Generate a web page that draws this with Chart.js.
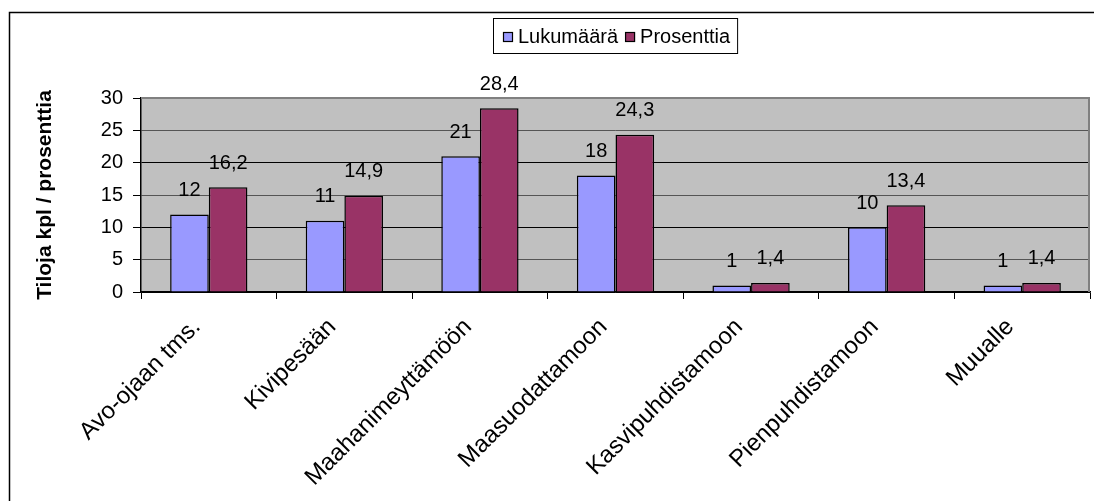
<!DOCTYPE html>
<html>
<head>
<meta charset="utf-8">
<script src="https://cdn.jsdelivr.net/npm/chart.js@4/dist/chart.umd.min.js"></script>
<style>
  html, body { margin: 0; padding: 0; background: #fff; }
  #wrap { width: 1094px; height: 501px; }
</style>
</head>
<body>
<div id="wrap"><canvas id="c" width="1094" height="501"></canvas></div>
<script>
// Categories and series
const categories = ['Avo-ojaan tms.', 'Kivipesään', 'Maahanimeyttämöön', 'Maasuodattamoon', 'Kasvipuhdistamoon', 'Pienpuhdistamoon', 'Muualle'];
const lukumaara = [12, 11, 21, 18, 1, 10, 1];
const prosenttia = [16.2, 14.9, 28.4, 24.3, 1.4, 13.4, 1.4];
const yTicks = [0, 5, 10, 15, 20, 25, 30];
const seriesNames = ['Lukumäärä', 'Prosenttia'];

const FONT = "'Liberation Sans', Arial, sans-serif";
Chart.defaults.font.family = FONT;
Chart.defaults.font.size = 20;
Chart.defaults.color = '#000';

// Finnish decimal formatting
function fmt(v, decimals) {
  return decimals ? v.toFixed(decimals).replace('.', ',') : String(v);
}

// Outer frame, plot background and plot edge
const frame = {
  id: 'frame',
  beforeDraw(chart) {
    const { ctx, chartArea: a } = chart;
    ctx.save();
    ctx.fillStyle = '#fff';
    ctx.fillRect(0, 0, chart.width, chart.height);
    ctx.strokeStyle = '#000';
    ctx.lineWidth = 1.5;
    ctx.beginPath();
    ctx.moveTo(chart.width + 5, 12.5);
    ctx.lineTo(9.5, 12.5);
    ctx.lineTo(9.5, chart.height + 5);
    ctx.stroke();
    ctx.fillStyle = '#C0C0C0';
    ctx.fillRect(a.left, a.top, a.right - a.left, a.bottom - a.top);
    ctx.restore();
  },
  beforeDatasetsDraw(chart) {
    const { ctx, chartArea: a } = chart;
    ctx.save();
    ctx.strokeStyle = '#808080';
    ctx.lineWidth = 2;
    ctx.beginPath();
    ctx.moveTo(a.left, a.top);
    ctx.lineTo(a.right - 1, a.top);
    ctx.lineTo(a.right - 1, a.bottom);
    ctx.stroke();
    ctx.restore();
  }
};

// Value labels above each bar
const valueLabels = {
  id: 'valueLabels',
  afterDatasetsDraw(chart) {
    const { ctx } = chart;
    ctx.save();
    ctx.font = '20px ' + FONT;
    ctx.fillStyle = '#000';
    ctx.textAlign = 'center';
    ctx.textBaseline = 'middle';
    chart.data.datasets.forEach((ds, i) => {
      const meta = chart.getDatasetMeta(i);
      meta.data.forEach((bar, j) => {
        ctx.fillText(fmt(ds.data[j], ds.decimals), bar.x, bar.y - 24);
      });
    });
    ctx.restore();
  }
};

// Boxed legend at the top
const boxLegend = {
  id: 'boxLegend',
  afterDraw(chart) {
    const { ctx } = chart;
    ctx.save();
    ctx.font = '20px ' + FONT;
    ctx.textBaseline = 'middle';
    ctx.textAlign = 'left';
    const boxL = 493, boxT = 18, boxH = 35, cy = 37;
    let x = boxL + 10;
    chart.data.datasets.forEach((ds, i) => {
      ctx.fillStyle = ds.backgroundColor;
      ctx.fillRect(x, cy - 5, 10, 10);
      ctx.strokeStyle = '#000';
      ctx.lineWidth = 1.2;
      ctx.strokeRect(x + 0.5, cy - 4.5, 9, 9);
      x += 15;
      ctx.fillStyle = '#000';
      ctx.fillText(ds.label, x, cy);
      x += ctx.measureText(ds.label).width + 7;
    });
    const boxR = x;
    ctx.strokeStyle = '#000';
    ctx.lineWidth = 1;
    ctx.strokeRect(boxL + 0.5, boxT + 0.5, boxR - boxL, boxH);
    ctx.restore();
  }
};

new Chart(document.getElementById('c'), {
  type: 'bar',
  data: {
    labels: categories,
    datasets: [
      { label: seriesNames[0], data: lukumaara, decimals: 0, backgroundColor: '#9999FF', borderColor: '#000', borderWidth: 1.5 },
      { label: seriesNames[1], data: prosenttia, decimals: 1, backgroundColor: '#993366', borderColor: '#000', borderWidth: 1.5 }
    ]
  },
  options: {
    responsive: false,
    animation: false,
    devicePixelRatio: 1,
    layout: { padding: { left: 0, top: 98, right: 4, bottom: 0 } },
    plugins: { legend: { display: false }, tooltip: { enabled: false } },
    datasets: { bar: { categoryPercentage: 0.57, barPercentage: 1 } },
    scales: {
      x: {
        grid: { drawOnChartArea: false, drawTicks: true, tickLength: 7, color: '#000', tickColor: '#000', offset: true },
        border: { color: '#000', width: 1.5 },
        ticks: { autoSkip: false, minRotation: 45, maxRotation: 45, padding: 14, labelOffset: -12, font: { size: 24 } },
        afterFit(scale) { scale.height = 209; }
      },
      y: {
        min: 0, max: 30,
        afterBuildTicks(scale) { scale.ticks = yTicks.map(v => ({ value: v })); },
        grid: {
          tickLength: 8,
          color(ctx) {
            const v = ctx.tick && ctx.tick.value;
            if (v === 30) return '#808080';
            return v % 10 === 0 ? '#000' : '#555';
          },
          tickColor: '#000'
        },
        border: { color: '#000', width: 1.5 },
        ticks: { padding: 10, font: { size: 20 } },
        title: { display: true, text: 'Tiloja kpl / prosenttia', font: { size: 21, weight: 'bold' }, padding: { top: 33, bottom: 0 } },
        afterFit(scale) { scale.width = 141; }
      }
    }
  },
  plugins: [frame, valueLabels, boxLegend]
});
</script>
</body>
</html>
